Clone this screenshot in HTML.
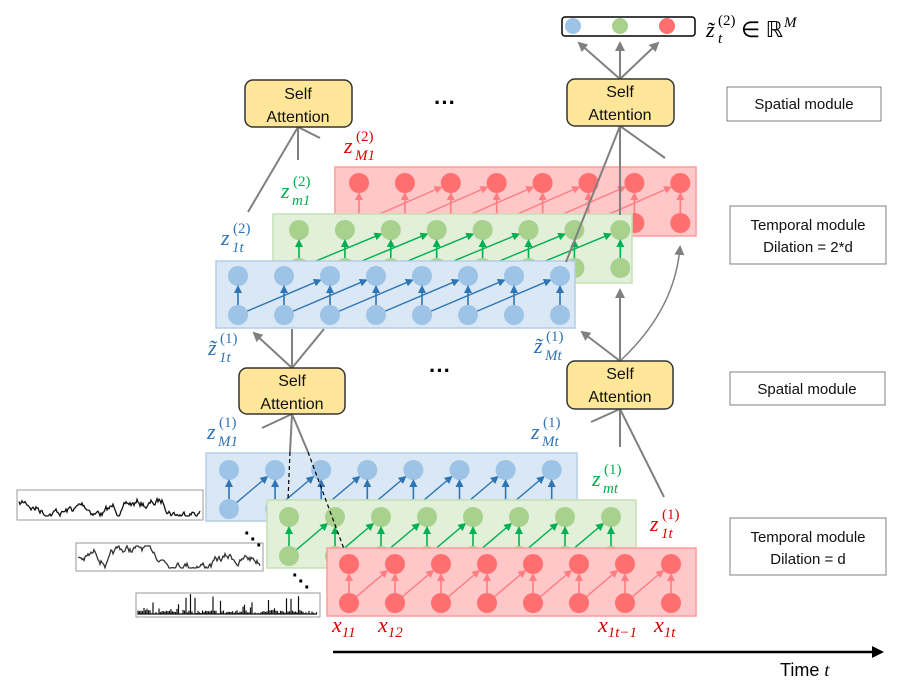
<!DOCTYPE html>
<html><head><meta charset="utf-8"><style>
html,body{margin:0;padding:0;background:#fff;}
svg{display:block;font-family:"Liberation Sans",sans-serif;}
.m{font-family:"Liberation Serif",serif;font-style:italic;}
</style></head><body>
<svg id="s" width="904" height="686" viewBox="0 0 904 686" xmlns="http://www.w3.org/2000/svg">
<defs>
<marker id="ab" markerWidth="8" markerHeight="8" refX="6" refY="4" orient="auto" markerUnits="userSpaceOnUse"><path d="M0,0 L8,4 L0,8z" fill="#2e75b6"/></marker>
<marker id="ag" markerWidth="8" markerHeight="8" refX="6" refY="4" orient="auto" markerUnits="userSpaceOnUse"><path d="M0,0 L8,4 L0,8z" fill="#00b050"/></marker>
<marker id="ar" markerWidth="8" markerHeight="8" refX="6" refY="4" orient="auto" markerUnits="userSpaceOnUse"><path d="M0,0 L8,4 L0,8z" fill="#ff7c80"/></marker>
<marker id="ay" markerWidth="10" markerHeight="10" refX="8" refY="5" orient="auto" markerUnits="userSpaceOnUse"><path d="M0,0 L10,5 L0,10z" fill="#808080"/></marker>
<marker id="ak" markerWidth="12" markerHeight="12" refX="10" refY="6" orient="auto" markerUnits="userSpaceOnUse"><path d="M0,0 L12,6 L0,12z" fill="#000"/></marker>
</defs>
<g id="layers"></g>
<g stroke="#808080" stroke-width="2" fill="none">
<line x1="298" y1="127" x2="248" y2="212"/>
<line x1="298" y1="127" x2="298" y2="160"/>
<line x1="298" y1="127" x2="320" y2="138"/>
<line x1="620" y1="126" x2="566" y2="262"/>
<line x1="620" y1="126" x2="620" y2="215"/>
<line x1="620" y1="126" x2="665" y2="158"/>
<line x1="620" y1="79" x2="579" y2="43" marker-end="url(#ay)"/>
<line x1="620" y1="79" x2="620" y2="43" marker-end="url(#ay)"/>
<line x1="620" y1="79" x2="658" y2="43" marker-end="url(#ay)"/>
<line x1="292" y1="368" x2="254" y2="333" marker-end="url(#ay)"/>
<line x1="292" y1="368" x2="292" y2="329"/>
<line x1="292" y1="368" x2="324" y2="329"/>
<line x1="292" y1="414" x2="262" y2="428"/>
<line x1="292" y1="414" x2="290" y2="452"/>
<line x1="292" y1="414" x2="308" y2="452"/>
<line x1="620" y1="361" x2="582" y2="332" marker-end="url(#ay)"/>
<line x1="620" y1="361" x2="620" y2="290" marker-end="url(#ay)"/>
<path d="M620,361 Q675,310 680,247" stroke-width="1.5" marker-end="url(#ay)"/>
<line x1="620" y1="409" x2="591" y2="422"/>
<line x1="620" y1="409" x2="620" y2="447"/>
<line x1="620" y1="409" x2="664" y2="497"/>
</g>
<g stroke="#000" stroke-width="1.2" stroke-dasharray="4,3" fill="none">
<line x1="290" y1="452" x2="288" y2="500"/>
<line x1="308" y1="452" x2="344" y2="549"/>
</g>
<g fill="#ffe699" stroke="#333" stroke-width="1.5">
<rect x="245" y="80" width="107" height="47" rx="8"/>
<rect x="567" y="79" width="107" height="47" rx="8"/>
<rect x="239" y="368" width="106" height="46" rx="8"/>
<rect x="567" y="361" width="106" height="48" rx="8"/>
</g>
<g font-size="16" fill="#111" text-anchor="middle">
<text x="298" y="99">Self</text><text x="298" y="122">Attention</text>
<text x="620" y="97">Self</text><text x="620" y="120">Attention</text>
<text x="292" y="386">Self</text><text x="292" y="409">Attention</text>
<text x="620" y="379">Self</text><text x="620" y="402">Attention</text>
</g>
<g font-size="22" font-weight="bold" text-anchor="middle" fill="#000">
<text x="445" y="110">···</text><text x="440" y="378">···</text>
</g>
<rect x="562" y="17" width="133" height="19" rx="3" fill="#fff" stroke="#000" stroke-width="1.5"/>
<circle cx="573" cy="26" r="8" fill="#9dc3e6"/><circle cx="620" cy="26" r="8" fill="#a9d18e"/><circle cx="667" cy="26" r="8" fill="#ff6f6f"/>
<g fill="#fff" stroke="#808080" stroke-width="1">
<rect x="727" y="87" width="154" height="34"/>
<rect x="730" y="206" width="156" height="58"/>
<rect x="730" y="372" width="155" height="33"/>
<rect x="730" y="518" width="156" height="57"/>
</g>
<g font-size="15" fill="#111" text-anchor="middle">
<text x="804" y="109">Spatial module</text>
<text x="808" y="230">Temporal module</text><text x="808" y="252">Dilation = 2*d</text>
<text x="807" y="394">Spatial module</text>
<text x="808" y="542">Temporal module</text><text x="808" y="564">Dilation = d</text>
</g>
<line x1="333" y1="652" x2="882" y2="652" stroke="#000" stroke-width="2.5" marker-end="url(#ak)"/>
<text x="780" y="676" font-size="18" fill="#000">Time <tspan class="m">t</tspan></text>
<g id="sig"></g>
<g font-size="20" font-weight="bold" fill="#000">
<text x="244" y="540">·</text><text x="250" y="546">·</text><text x="256" y="552">·</text>
<text x="292" y="582">·</text><text x="298" y="588">·</text><text x="304" y="594">·</text>
</g>
<g class="m" font-size="22">
<text x="344" y="153" fill="#e00000">z</text><text x="356" y="141" font-size="15" fill="#e00000" font-style="normal">(2)</text><text x="355" y="160" font-size="15" fill="#e00000">M1</text>
<text x="281" y="198" fill="#00b050">z</text><text x="293" y="186" font-size="15" fill="#00b050" font-style="normal">(2)</text><text x="292" y="205" font-size="15" fill="#00b050">m1</text>
<text x="221" y="245" fill="#2e75b6">z</text><text x="233" y="233" font-size="15" fill="#2e75b6" font-style="normal">(2)</text><text x="232" y="252" font-size="15" fill="#2e75b6">1t</text>
<text x="208" y="355" fill="#2e75b6">z̃</text><text x="220" y="343" font-size="15" fill="#2e75b6" font-style="normal">(1)</text><text x="219" y="362" font-size="15" fill="#2e75b6">1t</text>
<text x="534" y="353" fill="#2e75b6">z̃</text><text x="546" y="341" font-size="15" fill="#2e75b6" font-style="normal">(1)</text><text x="545" y="360" font-size="15" fill="#2e75b6">Mt</text>
<text x="207" y="439" fill="#2e75b6">z</text><text x="219" y="427" font-size="15" fill="#2e75b6" font-style="normal">(1)</text><text x="218" y="446" font-size="15" fill="#2e75b6">M1</text>
<text x="531" y="439" fill="#2e75b6">z</text><text x="543" y="427" font-size="15" fill="#2e75b6" font-style="normal">(1)</text><text x="542" y="446" font-size="15" fill="#2e75b6">Mt</text>
<text x="592" y="486" fill="#00b050">z</text><text x="604" y="474" font-size="15" fill="#00b050" font-style="normal">(1)</text><text x="603" y="493" font-size="15" fill="#00b050">mt</text>
<text x="650" y="531" fill="#e00000">z</text><text x="662" y="519" font-size="15" fill="#e00000" font-style="normal">(1)</text><text x="661" y="538" font-size="15" fill="#e00000">1t</text>
<text x="332" y="632" fill="#e00000">x<tspan font-size="15" dy="5">11</tspan></text>
<text x="378" y="632" fill="#e00000">x<tspan font-size="15" dy="5">12</tspan></text>
<text x="598" y="632" fill="#e00000">x<tspan font-size="15" dy="5">1t−1</tspan></text>
<text x="654" y="632" fill="#e00000">x<tspan font-size="15" dy="5">1t</tspan></text>
<text x="706" y="37" fill="#000">z̃</text><text x="718" y="25" font-size="15" fill="#000" font-style="normal">(2)</text><text x="718" y="43" font-size="15" fill="#000">t</text>
<text x="741" y="37" fill="#000" font-style="normal">∈ ℝ</text><text x="784" y="27" font-size="15" fill="#000">M</text>
</g>
</svg>
<script>
(function(){
var NS="http://www.w3.org/2000/svg",L=document.getElementById('layers');
function el(t,a,p){var e=document.createElementNS(NS,t);for(var k in a)e.setAttribute(k,a[k]);(p||L).appendChild(e);return e;}
var C={b:{f:'#dae8f5',s:'#b4cde6',c:'#9dc3e6',a:'#2e75b6',m:'ab'},g:{f:'#e2f0d9',s:'#c5e0b4',c:'#a9d18e',a:'#00b050',m:'ag'},r:{f:'#ffc7c7',s:'#ff9c9c',c:'#ff6f6f',a:'#ff7c80',m:'ar'}};
function layer(col,bx,by,bw,bh,x0,dx,yt,yb,dil){
 var c=C[col];
 el('rect',{x:bx,y:by,width:bw,height:bh,fill:c.f,stroke:c.s,'stroke-width':1.5});
 var r=10;
 for(var i=0;i<8;i++){
  var x=x0+i*dx;
  el('circle',{cx:x,cy:yt,r:r,fill:c.c});
  el('circle',{cx:x,cy:yb,r:r,fill:c.c});
  el('line',{x1:x,y1:yb-r,x2:x,y2:yt+r+1,stroke:c.a,'stroke-width':1.6,'marker-end':'url(#'+c.m+')'});
  if(i+dil<8){var x2=x0+(i+dil)*dx;
   var ang=Math.atan2(yt-yb,x2-x),sx=x+r*Math.cos(ang),sy=yb+r*Math.sin(ang),ex=x2-(r+1)*Math.cos(ang),ey=yt-(r+1)*Math.sin(ang);
   el('line',{x1:sx,y1:sy,x2:ex,y2:ey,stroke:c.a,'stroke-width':1.4,'marker-end':'url(#'+c.m+')'});}
 }
}
layer('r',335,167,361,69,359,45.9,183,223,2);
layer('g',273,214,359,69,299,45.9,230,268,2);
layer('b',216,261,359,67,238,46,276,315,2);
layer('b',206,453,371,68,229,46.1,470,509,1);
layer('g',267,500,369,68,289,46,517,556,1);
layer('r',327,548,369,68,349,46,564,603,1);
var S=document.getElementById('sig');
var seed=7;function rnd(){seed=(seed*16807)%2147483647;return seed/2147483647;}
function box(x,y,w,h){el('rect',{x:x,y:y,width:w,height:h,fill:'#fff',stroke:'#999','stroke-width':1},S);}
box(17,490,186,30);box(76,543,187,28);box(136,593,184,24);
var p='',v=505;for(var x=19;x<201;x+=1){v+=(rnd()-0.5)*7;v=Math.max(494,Math.min(516,v));p+=x+','+v.toFixed(1)+' ';}
el('polyline',{points:p,fill:'none',stroke:'#111','stroke-width':1.3},S);
p='';v=556;for(var x=78;x<261;x+=1){v+=(rnd()-0.5)*7;v=Math.max(546,Math.min(568,v));p+=x+','+v.toFixed(1)+' ';}
el('polyline',{points:p,fill:'none',stroke:'#333','stroke-width':1.3},S);
p='';for(var x=138;x<318;x+=1.5){var hgt=rnd()<0.18?4+rnd()*16:rnd()*4;p+=x+',614 '+x+','+(614-hgt).toFixed(1)+' '+x+',614 ';}
el('polyline',{points:p,fill:'none',stroke:'#111','stroke-width':1.2},S);
})();
</script>
</body></html>
